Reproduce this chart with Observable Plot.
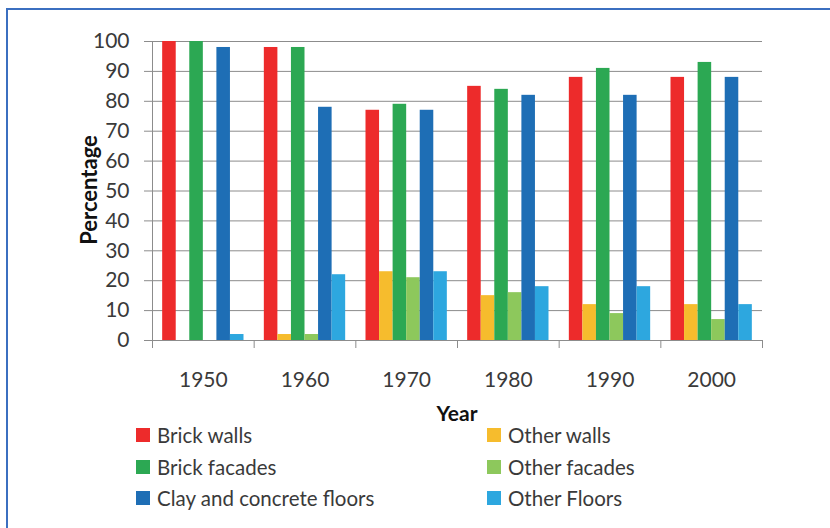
<!DOCTYPE html>
<html>
<head>
<meta charset="utf-8">
<script src="https://cdn.jsdelivr.net/npm/d3@7"></script>
<script src="https://cdn.jsdelivr.net/npm/@observablehq/plot@0.6"></script>
<style>
  html, body { margin: 0; padding: 0; width: 830px; height: 528px; overflow: hidden; background: #fff; }
  #frame { position: absolute; left: 6px; top: 8px; width: 900px; height: 600px; border: 2px solid #3b6fc0; box-sizing: border-box; }
  #chart { position: absolute; left: 0; top: 0; }
  #ylabel { position: absolute; left: 88px; top: 190px; transform: translate(-50%, -50%) rotate(-90deg); font: bold 22px Lato, sans-serif; color: #111; white-space: nowrap; }
  #xlabel { position: absolute; left: 457px; top: 400px; transform: translateX(-50%); font: bold 21px Lato, sans-serif; color: #111; }
  .leg { position: absolute; font: 20.5px Lato, sans-serif; color: #3a3a3a; white-space: nowrap; display: flex; align-items: center; height: 24px; }
  .leg span.sw { display: inline-block; width: 14px; height: 14px; margin-right: 7px; }
</style>
</head>
<body>
<div id="frame"></div>
<div id="chart"></div>
<div id="ylabel">Percentage</div>
<div id="xlabel">Year</div>
<div id="legend"></div>
<script>
const years = [1950, 1960, 1970, 1980, 1990, 2000];
const seriesNames = ["Brick walls", "Other walls", "Brick facades", "Other facades", "Clay and concrete floors", "Other Floors"];
const seriesColors = ["#ed2b2b", "#f6bc2d", "#2ca853", "#8dc85c", "#1e6eb5", "#2da7df"];
const brickWalls = [100, 98, 77, 85, 88, 88];
const otherWalls = [0, 2, 23, 15, 12, 12];
const brickFacades = [100, 98, 79, 84, 91, 93];
const otherFacades = [0, 2, 21, 16, 9, 7];
const clayFloors = [98, 78, 77, 82, 82, 88];
const otherFloors = [2, 22, 23, 18, 18, 12];
const yTicks = [0, 10, 20, 30, 40, 50, 60, 70, 80, 90, 100];

const seriesValues = [brickWalls, otherWalls, brickFacades, otherFacades, clayFloors, otherFloors];
const step = 10;            // one decade per category
const groupPad = 1;         // gap on each side of a group (in years)
const barW = (step - 2 * groupPad) / seriesNames.length;

const rows = [];
years.forEach((yr, j) => {
  seriesNames.forEach((s, i) => {
    const x1 = yr - step / 2 + groupPad + i * barW;
    rows.push({year: yr, series: s, value: seriesValues[i][j], x1, x2: x1 + barW});
  });
});
const boundaries = [years[0] - step / 2, ...years.map(y => y + step / 2)];

const chart = Plot.plot({
  width: 830,
  height: 425,
  marginLeft: 152,
  marginRight: 68,
  marginTop: 41,
  marginBottom: 85,
  style: {fontFamily: "Lato, sans-serif", fontSize: "21px", color: "#3a3a3a", background: "transparent"},
  x: {domain: [boundaries[0], boundaries[boundaries.length - 1]]},
  y: {domain: [0, 100]},
  color: {domain: seriesNames, range: seriesColors},
  marks: [
    Plot.ruleY(yTicks, {y: d => d, x1: boundaries[0], x2: boundaries[boundaries.length - 1], stroke: "#8c8c8c", strokeWidth: 1, insetLeft: -8}),
    Plot.ruleX([boundaries[0]], {y1: 0, y2: 100, stroke: "#8c8c8c"}),
    Plot.axisY({ticks: yTicks, tickSize: 0, tickPadding: 23, label: null, fill: "#3a3a3a", fontSize: 21}),
    Plot.axisX({ticks: boundaries, tickSize: 8, tickFormat: () => "", label: null, stroke: "#8c8c8c"}),
    Plot.axisX({ticks: years, tickSize: 0, tickPadding: 32, tickFormat: d => String(d), label: null, fill: "#3a3a3a", fontSize: 21}),
    Plot.rectY(rows, {x1: "x1", x2: "x2", y: "value", fill: "series"})
  ]
});
document.getElementById("chart").appendChild(chart);

// legend: two columns, three rows
const legend = document.getElementById("legend");
const legCols = [136, 487];
const legRows = [435, 466.5, 497.5];
seriesNames.forEach((s, i) => {
  const col = i % 2, row = Math.floor(i / 2);
  const el = document.createElement("div");
  el.className = "leg";
  el.style.left = legCols[col] + "px";
  el.style.top = (legRows[row] - 12) + "px";
  el.innerHTML = `<span class="sw" style="background:${seriesColors[i]}"></span>${s}`;
  legend.appendChild(el);
});
</script>
</body>
</html>
